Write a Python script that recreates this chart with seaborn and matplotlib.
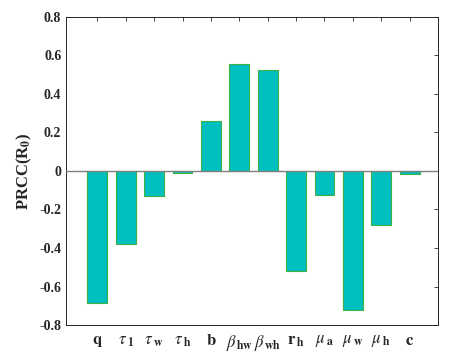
import numpy as np
import pandas as pd
import matplotlib
matplotlib.use('Agg')
import matplotlib.pyplot as plt
import seaborn as sns

# parameter labels and PRCC values
params = [r'$\mathbf{q}$', r'$\tau_{\;\mathbf{1}}$', r'$\tau_{\;\mathbf{w}}$', r'$\tau_{\;\mathbf{h}}$',
          r'$\mathbf{b}$', r'$\beta_{\,\mathbf{hw}}$', r'$\beta_{\,\mathbf{wh}}$', r'$\mathbf{r}_{\,\mathbf{h}}$',
          r'$\mu_{\;\mathbf{a}}$', r'$\mu_{\;\mathbf{w}}$', r'$\mu_{\;\mathbf{h}}$', r'$\mathbf{c}$']
prcc = [-0.686, -0.38, -0.13, -0.01, 0.26, 0.555, 0.522, -0.52, -0.125, -0.72, -0.28, -0.015]
yticks = [-0.8, -0.6, -0.4, -0.2, 0, 0.2, 0.4, 0.6, 0.8]
ytick_labels = ['-0.8', '-0.6', '-0.4', '-0.2', '0', '0.2', '0.4', '0.6', '0.8']

sns.set_style("white")
plt.rcParams['font.family'] = ['Liberation Serif', 'DejaVu Serif']
plt.rcParams['mathtext.fontset'] = 'stix'

df = pd.DataFrame({'param': params, 'prcc': prcc})

fig = plt.figure(figsize=(4.53, 3.58), dpi=100)
ax = fig.add_axes([0.146, 0.092, 0.821, 0.861])

sns.barplot(data=df, x='param', y='prcc', color='#00BFBF', saturation=1,
            width=0.7, edgecolor='#3CB043', linewidth=0.8, ax=ax)

ax.axhline(0, color='#808080', linewidth=1.0, zorder=3)

ax.set_xlim(-1.1, len(params) - 0.0)
ax.set_ylim(-0.8, 0.8)
ax.set_yticks(yticks)
ax.set_yticklabels(ytick_labels)
ax.set_xlabel('')
ax.set_ylabel(r'PRCC(R$_{\mathbf{0}}$)', fontsize=12, fontweight='bold')

ax.tick_params(direction='in', top=True, right=True, length=3, width=0.6,
               colors='#262626', labelsize=10)
ax.tick_params(axis='x', pad=6)
for lbl in ax.get_yticklabels() + ax.get_xticklabels():
    lbl.set_fontweight('bold')
for lbl in ax.get_xticklabels():
    lbl.set_fontsize(12)

for s in ax.spines.values():
    s.set_color('#262626')
    s.set_linewidth(0.7)

fig.savefig('out.png', dpi=100)
